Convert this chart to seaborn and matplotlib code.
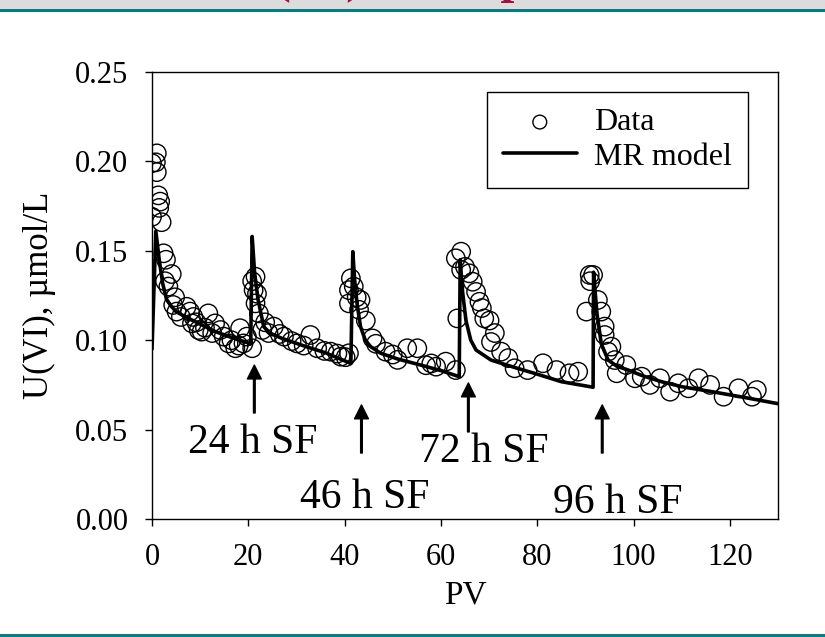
import matplotlib
matplotlib.use("Agg")
import matplotlib.pyplot as plt
import seaborn as sns
import pandas as pd

# Dados medidos (PV, U(VI) umol/L) por intervalo de fluxo
pv_seg1 = [0, 0.8, 1.0, 1.0, 1.3, 1.7, 1.5, 0, 2.0, 2.4, 2.9, 4.1, 2.7, 3.4, 4.8, 4.4, 5.1, 6.0, 7.2,
           7.9, 8.6, 8.3, 9.2, 9.7, 11.7, 10.3, 11.0, 12.5, 13.1, 14.2, 14.9, 15.9, 16.5, 17.3, 18.0,
           18.3, 19.0, 19.7, 20.8]
u_seg1 = [0.199, 0.1995, 0.2045, 0.194, 0.181, 0.1775, 0.174, 0.169, 0.166, 0.1486, 0.145, 0.137,
          0.133, 0.130, 0.124, 0.1197, 0.116, 0.113, 0.1187, 0.116, 0.113, 0.1094, 0.110, 0.1057,
          0.115, 0.1048, 0.107, 0.104, 0.1094, 0.1057, 0.102, 0.0982, 0.100, 0.0955, 0.097, 0.1067,
          0.0982, 0.102, 0.0955]
pv_seg2 = [20.8, 21.5, 21.1, 21.8, 21.5, 22.2, 23.5, 22.9, 24.2, 25.3, 26.5, 27.4, 29.0, 30.1, 31.5,
           32.9, 34.3, 35.8, 37.1, 38.5, 39.2, 40.2, 40.9]
u_seg2 = [0.133, 0.1355, 0.128, 0.126, 0.1206, 0.115, 0.110, 0.1057, 0.104, 0.1076, 0.1035, 0.102,
          0.0995, 0.0982, 0.097, 0.1029, 0.0955, 0.094, 0.0936, 0.0925, 0.0908, 0.0905, 0.0927]
pv_seg3 = [41.3, 40.9, 41.9, 40.9, 42.5, 43.3, 43.0, 44.4, 45.8, 46.5, 48.5, 50.0, 51.0, 53.0, 55.1,
           56.9, 58.0, 59.0, 61.0, 63.1]
u_seg3 = [0.1346, 0.128, 0.130, 0.1206, 0.124, 0.1225, 0.117, 0.111, 0.101, 0.098, 0.0936, 0.092,
          0.089, 0.0955, 0.0955, 0.086, 0.087, 0.0852, 0.088, 0.0833]
pv_seg4 = [63.4, 63.1, 64.2, 64.2, 65.0, 65.9, 66.6, 67.3, 68.0, 68.5, 69.0, 70.1, 70.4, 71.2, 72.5,
           74.0, 75.3, 78.0, 81.2, 84.0, 86.7, 88.5]
u_seg4 = [0.1122, 0.1458, 0.1495, 0.1393, 0.141, 0.1374, 0.1327, 0.127, 0.1215, 0.118, 0.1122, 0.111,
          0.099, 0.104, 0.0936, 0.090, 0.0843, 0.0833, 0.0871, 0.0833, 0.0815, 0.0824]
pv_seg5 = [90.9, 91.6, 91.0, 92.6, 90.2, 93.3, 94.0, 94.0, 95.4, 94.7, 96.1, 96.5, 98.5, 100.3, 101.7,
           103.4, 105.5, 107.6, 109.3, 111.4, 113.5, 115.9, 118.7, 121.8, 124.6, 125.6]
u_seg5 = [0.1365, 0.1365, 0.133, 0.1225, 0.116, 0.116, 0.1076, 0.1029, 0.0964, 0.0936, 0.0889, 0.0815,
          0.0861, 0.0787, 0.0796, 0.075, 0.0787, 0.0712, 0.0759, 0.0731, 0.0787, 0.075, 0.0684,
          0.0731, 0.0684, 0.0721]

# Curva do modelo MR
pv_modelo = [0, 0.8, 1.5, 2.2, 3.0, 4.0, 5.0, 7.0, 10.0, 13.0, 16.0, 20.5,
             20.8, 21.3, 22.0, 23.2, 24.5, 27.0, 32.0, 36.0, 41.3,
             41.7, 42.1, 42.6, 43.3, 44.3, 45.4, 47.5, 51.0, 55.8, 60.0, 63.8,
             64.0, 64.5, 65.2, 66.2, 67.3, 70.4, 75.0, 80.0, 85.0, 91.6,
             91.7, 92.4, 93.3, 94.7, 96.5, 98.9, 102.0, 105.8, 110.0, 116.3, 123.0, 130.0]
u_modelo = [0.095, 0.161, 0.145, 0.132, 0.123, 0.119, 0.116, 0.113, 0.109, 0.105, 0.102, 0.098,
            0.158, 0.138, 0.123, 0.1076, 0.104, 0.101, 0.0964, 0.093, 0.087,
            0.1495, 0.133, 0.120, 0.1076, 0.100, 0.0964, 0.0927, 0.0895, 0.0861, 0.083, 0.0796,
            0.145, 0.127, 0.111, 0.100, 0.0945, 0.0889, 0.085, 0.081, 0.0768, 0.0737,
            0.138, 0.115, 0.098, 0.089, 0.0855, 0.0833, 0.080, 0.0768, 0.074, 0.0712, 0.068, 0.0645]

# Setas de stop-flow
sf_labels = ["24 h SF", "46 h SF", "72 h SF", "96 h SF"]
sf_pv = [21.25, 43.5, 65.7, 93.5]
sf_tip = [0.0861, 0.0638, 0.0761, 0.0638]
sf_tail = [0.0593, 0.0369, 0.0487, 0.0369]
sf_text_pv = [7.5, 30.8, 55.4, 83.3]
sf_text_u = [0.0369, 0.0062, 0.032, 0.0034]

df_dados = pd.DataFrame({
    "PV": pv_seg1 + pv_seg2 + pv_seg3 + pv_seg4 + pv_seg5,
    "U": u_seg1 + u_seg2 + u_seg3 + u_seg4 + u_seg5,
})
df_modelo = pd.DataFrame({"PV": pv_modelo, "U": u_modelo})

sns.set_style("ticks")
plt.rcParams["font.family"] = ["Liberation Serif", "DejaVu Serif"]
plt.rcParams["text.color"] = "black"
plt.rcParams["axes.labelcolor"] = "black"
plt.rcParams["xtick.color"] = "black"
plt.rcParams["ytick.color"] = "black"

fig = plt.figure(figsize=(8.25, 6.37), dpi=100)
ax = fig.add_axes([152 / 825, 1 - 519 / 637, 626 / 825, 447 / 637])

# Faixa do cabecalho do slide
fig.patches.append(plt.Rectangle((0, 1 - 9 / 637), 1, 9 / 637, transform=fig.transFigure,
                                 facecolor="#dcdcdc", edgecolor="none", zorder=0))
fig.patches.append(plt.Rectangle((0, 1 - 12 / 637), 1, 3 / 637, transform=fig.transFigure,
                                 facecolor="#008080", edgecolor="none", zorder=1))
fig.patches.append(plt.Rectangle((0, 0), 1, 3 / 637, transform=fig.transFigure,
                                 facecolor="#008080", edgecolor="none", zorder=1))
fig.text(238 / 825, 1 + 8 / 637, "U(VI) Desorption", color="#a01040", fontsize=36,
         fontweight="bold", ha="left", va="baseline")

sns.scatterplot(data=df_dados, x="PV", y="U", ax=ax, marker="o", s=175,
                facecolor="none", edgecolor="black", linewidth=1.0, label="Data", zorder=2)
sns.lineplot(data=df_modelo, x="PV", y="U", ax=ax, color="black", lw=2.6,
             estimator=None, sort=False, label="MR model", zorder=3)

for lab, x, tip, tail, tx, ty in zip(sf_labels, sf_pv, sf_tip, sf_tail, sf_text_pv, sf_text_u):
    ax.annotate("", xy=(x, tip), xytext=(x, tail),
                arrowprops=dict(facecolor="black", edgecolor="black", width=1.2,
                                headwidth=10, headlength=10, shrink=0))
    ax.text(tx, ty, lab, fontsize=30, color="black", ha="left", va="baseline")

ax.set_xlim(0, 130)
ax.set_ylim(0, 0.25)
ax.set_xticks([0, 20, 40, 60, 80, 100, 120])
ax.set_yticks([0.0, 0.05, 0.10, 0.15, 0.20, 0.25])
ax.set_yticklabels([f"{v:.2f}" for v in [0.0, 0.05, 0.10, 0.15, 0.20, 0.25]])
ax.tick_params(axis="both", direction="out", length=5, width=1, labelsize=22, pad=12,
               top=False, right=False, colors="black")
for s in ax.spines.values():
    s.set_linewidth(1)
    s.set_color("black")
ax.set_xlabel("PV", fontsize=24, labelpad=6, color="black")
ax.set_ylabel("U(VI), µmol/L", fontsize=25, labelpad=14, color="black")

leg = ax.legend(loc="upper right", bbox_to_anchor=(0.952, 0.955), fontsize=23, frameon=True,
                fancybox=False, framealpha=1, edgecolor="black", handlelength=2.3,
                handletextpad=0.55, labelspacing=0.15, borderpad=0.5, borderaxespad=0,
                markerscale=0.75)
leg.get_frame().set_linewidth(1)
for t in leg.get_texts():
    t.set_color("black")

fig.savefig("out.png", dpi=100)
